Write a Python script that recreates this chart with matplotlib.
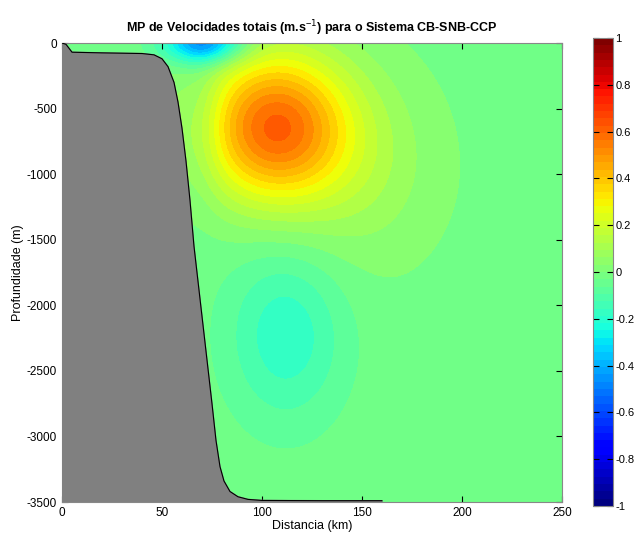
import matplotlib
matplotlib.use("Agg")
import matplotlib.pyplot as plt
import numpy as np

plt.rcParams['font.family'] = ['Liberation Sans', 'DejaVu Sans']
plt.rcParams['axes.unicode_minus'] = False

# bathymetry profile (distance km, depth m)
bathy_x = [0, 2, 5, 20, 40, 46, 50, 53, 56, 58, 60, 62, 64, 66, 69, 72, 75, 77, 79, 81, 84, 88, 93, 100, 130, 160]
bathy_z = [0, -10, -70, -75, -80, -90, -120, -180, -300, -450, -650, -900, -1200, -1550, -1950, -2350, -2750, -3030, -3230, -3340, -3420, -3460, -3480, -3488, -3490, -3490]

# eddy structures read from the section: centre x (km), centre z (m), amplitude (m/s), widths
eddy_name = ['surface jet', 'slope counterflow', 'core', 'core tail', 'deep eddy']
eddy_x = [71, 70, 106, 148, 112]
eddy_z = [0, -550, -640, -950, -2220]
eddy_amp = [-0.48, -0.07, 0.61, 0.10, -0.17]
eddy_wx = [14, 8, 26, 28, 20.5]
eddy_wz = [110, 450, 400, 520, 470]
background = -0.02

dist = np.linspace(0, 250, 501)
depth = np.linspace(-3500, 0, 701)
X, Z = np.meshgrid(dist, depth)
V = np.full(X.shape, background)
for x0, z0, a, wx, wz in zip(eddy_x, eddy_z, eddy_amp, eddy_wx, eddy_wz):
    V += a * np.exp(-((X - x0) ** 2) / (2 * wx ** 2) - ((Z - z0) ** 2) / (2 * wz ** 2))

fig = plt.figure(figsize=(6.36, 5.38), dpi=100)
ax = fig.add_axes([0.0975, 0.0669, 0.786, 0.8531])
cax = fig.add_axes([0.932, 0.0595, 0.0315, 0.8699])

levels = np.arange(-1, 1.0001, 0.05)
cf = ax.contourf(X, Z, V, levels=levels, cmap='jet', vmin=-1, vmax=1)

# seabed
poly_x = bathy_x + [160, 0]
poly_z = bathy_z + [-3500, -3500]
ax.fill(poly_x, poly_z, color='#808080', zorder=3)
ax.plot(bathy_x, bathy_z, color='black', lw=0.8, zorder=4)

ax.set_xlim(0, 250)
ax.set_ylim(-3500, 0)
ax.set_xticks([0, 50, 100, 150, 200, 250])
ax.set_yticks(np.arange(-3500, 1, 500))
ax.tick_params(direction='in', labelsize=8.5, top=True, right=True, length=4)
ax.set_xlabel('Distancia (km)', fontsize=9, labelpad=1)
ax.set_ylabel('Profundidade (m)', fontsize=9, labelpad=2)
ax.set_title('MP de Velocidades totais (m.s$^{\\mathtt{-}1}$) para o Sistema CB-SNB-CCP',
             fontsize=9, fontweight='bold', pad=8)
for s in ax.spines.values():
    s.set_color('#888888')

cmap64 = plt.get_cmap('jet', 64)
sm = matplotlib.cm.ScalarMappable(norm=matplotlib.colors.Normalize(-1, 1), cmap=cmap64)
cb = fig.colorbar(sm, cax=cax, ticks=np.arange(-1, 1.01, 0.2))
cb.ax.set_yticklabels(['-1', '-0.8', '-0.6', '-0.4', '-0.2', '0', '0.2', '0.4', '0.6', '0.8', '1'])
cb.ax.tick_params(direction='in', labelsize=8, left=True, right=True, length=4, pad=2)
cb.outline.set_edgecolor('#888888')

fig.savefig('out.png', dpi=100)
